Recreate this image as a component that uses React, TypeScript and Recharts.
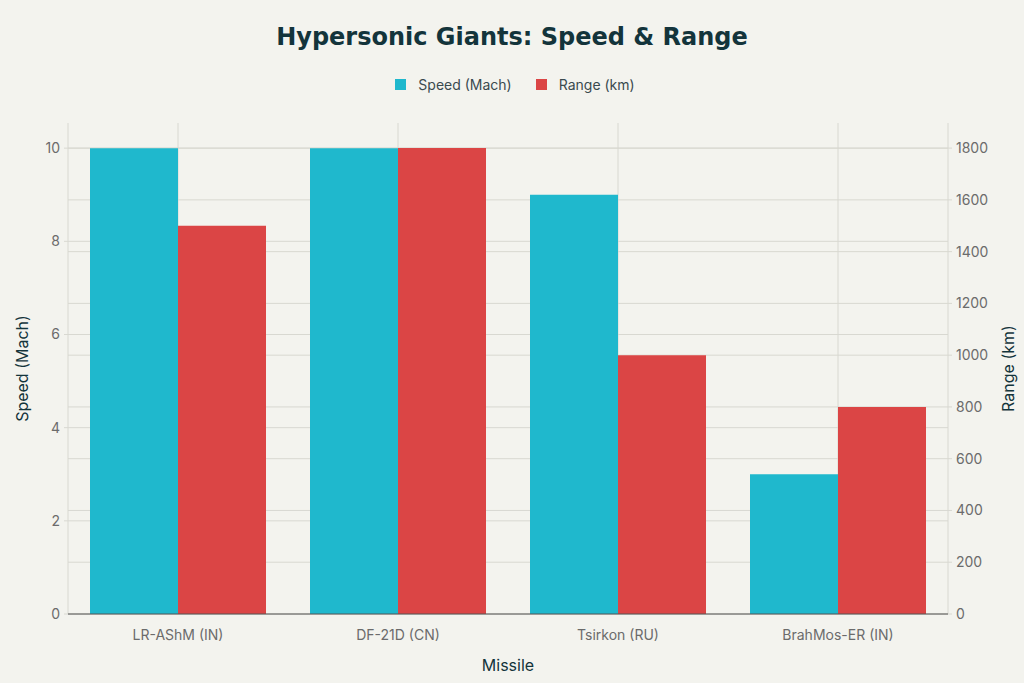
import React from 'react';
import { BarChart, Bar, XAxis, YAxis, CartesianGrid } from 'recharts';

const missiles = ['LR-AShM (IN)', 'DF-21D (CN)', 'Tsirkon (RU)', 'BrahMos-ER (IN)'];
const speedMach = [10, 10, 9, 3];
const rangeKm = [1500, 1800, 1000, 800];
const speedTicks = [0, 2, 4, 6, 8, 10];
const rangeTicks = [0, 200, 400, 600, 800, 1000, 1200, 1400, 1600, 1800];

const seriesNames = ['Speed (Mach)', 'Range (km)'];
const seriesColors = ['#1FB8CD', '#DB4545'];

const data = missiles.map((name, i) => ({ name, speed: speedMach[i], range: rangeKm[i] }));

const FONT = 'Inter, "Open Sans", sans-serif';
const tickStyle = { fill: '#6b6b6b', fontSize: 14, fontFamily: FONT };
const GRID = '#d8d8d1';

export default function App() {
  return (
    <div style={{ position: 'absolute', left: 0, top: 0, width: 1024, height: 683, background: '#F3F3EE' }}>
      <div
        style={{
          position: 'absolute',
          top: 23,
          width: 1024,
          textAlign: 'center',
          fontFamily: '"DejaVu Sans", sans-serif',
          fontWeight: 'bold',
          fontSize: 24,
          color: '#13343B',
        }}
      >
        Hypersonic Giants: Speed &amp; Range
      </div>
      {/* legend */}
      <div
        style={{
          position: 'absolute',
          top: 76,
          width: 1024,
          display: 'flex',
          justifyContent: 'center',
          gap: 24,
          fontFamily: FONT,
          fontSize: 14,
          color: '#3a4a4e',
          paddingLeft: 6,
          boxSizing: 'border-box',
        }}
      >
        {seriesNames.map((n, i) => (
          <div key={n} style={{ display: 'flex', alignItems: 'center' }}>
            <span style={{ display: 'inline-block', width: 11, height: 11, background: seriesColors[i], marginRight: 12 }} />
            {n}
          </div>
        ))}
      </div>
      <BarChart
        width={1024}
        height={683}
        data={data}
        margin={{ top: 123, right: 0, bottom: 39, left: 0 }}
        barCategoryGap="10%"
        barGap={0}
        style={{ position: 'absolute', left: 0, top: 0 }}
      >
        <CartesianGrid yAxisId="speed" stroke={GRID} vertical={true} horizontalValues={speedTicks} />
        <CartesianGrid yAxisId="range" stroke={GRID} vertical={false} horizontalValues={rangeTicks} />
        <XAxis
          dataKey="name"
          height={30}
          tick={tickStyle}
          tickLine={false}
          axisLine={{ stroke: '#555' }}
          tickMargin={10}
          label={{ value: 'Missile', position: 'insideBottom', offset: -27, fill: '#13343B', fontSize: 16, fontFamily: FONT }}
        />
        <YAxis
          yAxisId="speed"
          orientation="left"
          width={68}
          domain={[0, 10.54]}
          ticks={speedTicks}
          tick={tickStyle}
          tickLine={{ stroke: GRID }}
          tickSize={4}
          tickMargin={4}
          axisLine={false}
          label={{ value: 'Speed (Mach)', angle: -90, position: 'insideLeft', offset: 22, fill: '#13343B', fontSize: 16, fontFamily: FONT, style: { textAnchor: 'middle' } }}
        />
        <YAxis
          yAxisId="range"
          orientation="right"
          width={76}
          domain={[0, 1897]}
          ticks={rangeTicks}
          tick={tickStyle}
          tickLine={{ stroke: GRID }}
          tickSize={4}
          tickMargin={4}
          axisLine={false}
          label={{ value: 'Range (km)', angle: -90, position: 'insideRight', offset: 16, fill: '#13343B', fontSize: 16, fontFamily: FONT, style: { textAnchor: 'middle' } }}
        />
        <Bar yAxisId="speed" dataKey="speed" name={seriesNames[0]} fill={seriesColors[0]} isAnimationActive={false} />
        <Bar yAxisId="range" dataKey="range" name={seriesNames[1]} fill={seriesColors[1]} isAnimationActive={false} />
      </BarChart>
    </div>
  );
}
